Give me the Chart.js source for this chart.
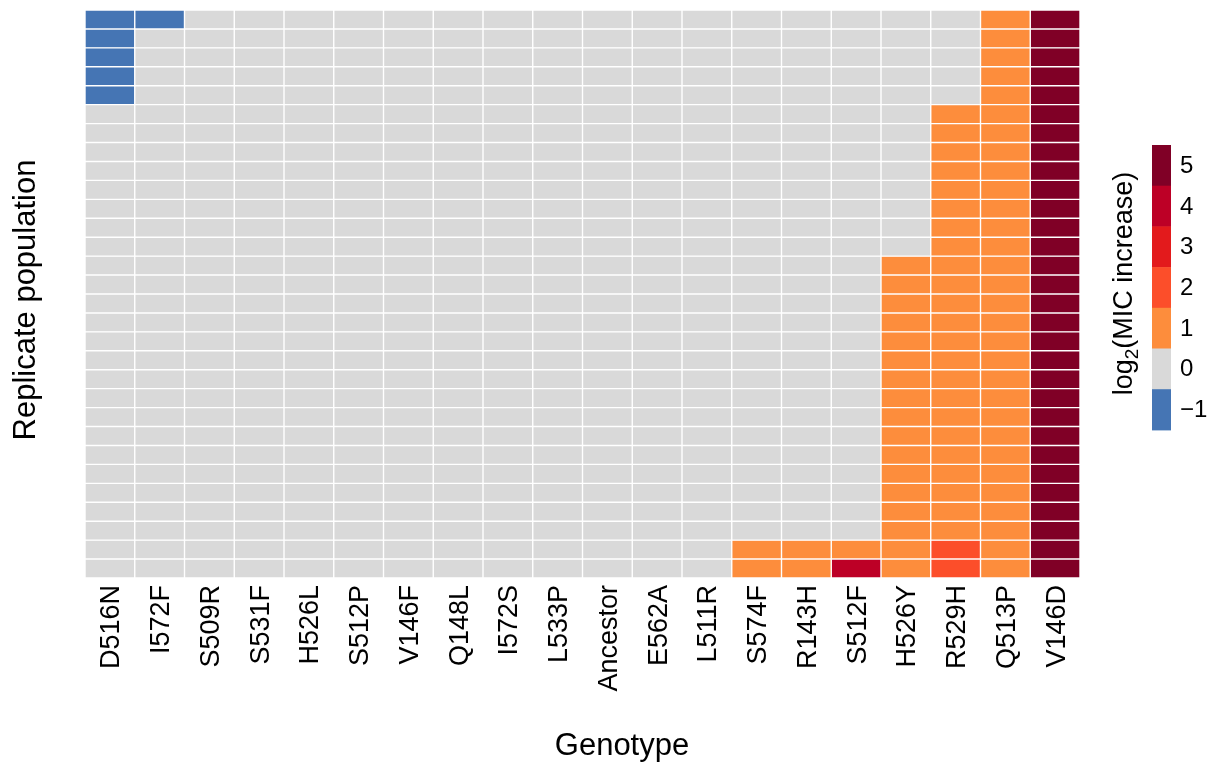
<!DOCTYPE html>
<html>
<head>
<meta charset="utf-8">
<script src="https://cdn.jsdelivr.net/npm/chart.js@4/dist/chart.umd.min.js"></script>
<style>
  html, body { margin: 0; padding: 0; background: #ffffff; }
  #wrap { width: 1209px; height: 763px; }
</style>
</head>
<body>
<div id="wrap"><canvas id="c" width="1209" height="763"></canvas></div>
<script>
// ---- data ----
const genotypes = ["D516N","I572F","S509R","S531F","H526L","S512P","V146F","Q148L","I572S","L533P",
                   "Ancestor","E562A","L511R","S574F","R143H","S512F","H526Y","R529H","Q513P","V146D"];
const replicates = [1,2,3,4,5,6,7,8,9,10,11,12,13,14,15,16,17,18,19,20,21,22,23,24,25,26,27,28,29,30];

// log2(MIC increase), one array per genotype, replicate 1 (top) .. 30 (bottom)
const logMIC = [
  [-1,-1,-1,-1,-1, 0,0,0,0,0, 0,0,0,0,0, 0,0,0,0,0, 0,0,0,0,0, 0,0,0,0,0], // D516N
  [-1,0,0,0,0, 0,0,0,0,0, 0,0,0,0,0, 0,0,0,0,0, 0,0,0,0,0, 0,0,0,0,0],     // I572F
  [0,0,0,0,0, 0,0,0,0,0, 0,0,0,0,0, 0,0,0,0,0, 0,0,0,0,0, 0,0,0,0,0],      // S509R
  [0,0,0,0,0, 0,0,0,0,0, 0,0,0,0,0, 0,0,0,0,0, 0,0,0,0,0, 0,0,0,0,0],      // S531F
  [0,0,0,0,0, 0,0,0,0,0, 0,0,0,0,0, 0,0,0,0,0, 0,0,0,0,0, 0,0,0,0,0],      // H526L
  [0,0,0,0,0, 0,0,0,0,0, 0,0,0,0,0, 0,0,0,0,0, 0,0,0,0,0, 0,0,0,0,0],      // S512P
  [0,0,0,0,0, 0,0,0,0,0, 0,0,0,0,0, 0,0,0,0,0, 0,0,0,0,0, 0,0,0,0,0],      // V146F
  [0,0,0,0,0, 0,0,0,0,0, 0,0,0,0,0, 0,0,0,0,0, 0,0,0,0,0, 0,0,0,0,0],      // Q148L
  [0,0,0,0,0, 0,0,0,0,0, 0,0,0,0,0, 0,0,0,0,0, 0,0,0,0,0, 0,0,0,0,0],      // I572S
  [0,0,0,0,0, 0,0,0,0,0, 0,0,0,0,0, 0,0,0,0,0, 0,0,0,0,0, 0,0,0,0,0],      // L533P
  [0,0,0,0,0, 0,0,0,0,0, 0,0,0,0,0, 0,0,0,0,0, 0,0,0,0,0, 0,0,0,0,0],      // Ancestor
  [0,0,0,0,0, 0,0,0,0,0, 0,0,0,0,0, 0,0,0,0,0, 0,0,0,0,0, 0,0,0,0,0],      // E562A
  [0,0,0,0,0, 0,0,0,0,0, 0,0,0,0,0, 0,0,0,0,0, 0,0,0,0,0, 0,0,0,0,0],      // L511R
  [0,0,0,0,0, 0,0,0,0,0, 0,0,0,0,0, 0,0,0,0,0, 0,0,0,0,0, 0,0,0,1,1],      // S574F
  [0,0,0,0,0, 0,0,0,0,0, 0,0,0,0,0, 0,0,0,0,0, 0,0,0,0,0, 0,0,0,1,1],      // R143H
  [0,0,0,0,0, 0,0,0,0,0, 0,0,0,0,0, 0,0,0,0,0, 0,0,0,0,0, 0,0,0,1,4],      // S512F
  [0,0,0,0,0, 0,0,0,0,0, 0,0,0,1,1, 1,1,1,1,1, 1,1,1,1,1, 1,1,1,1,1],      // H526Y
  [0,0,0,0,0, 1,1,1,1,1, 1,1,1,1,1, 1,1,1,1,1, 1,1,1,1,1, 1,1,1,2,2],      // R529H
  [1,1,1,1,1, 1,1,1,1,1, 1,1,1,1,1, 1,1,1,1,1, 1,1,1,1,1, 1,1,1,1,1],      // Q513P
  [5,5,5,5,5, 5,5,5,5,5, 5,5,5,5,5, 5,5,5,5,5, 5,5,5,5,5, 5,5,5,5,5]       // V146D
];

const scaleValues = [-1, 0, 1, 2, 3, 4, 5];
const scaleLabels = ["\u22121", "0", "1", "2", "3", "4", "5"];
const scaleColors = ["#4575b4", "#d9d9d9", "#fd8d3c", "#fc4e2a", "#e31a1c", "#bd0026", "#800026"];

const xTitle = "Genotype";
const yTitle = "Replicate population";

// ---- build datasets: one stacked dataset per replicate row ----
function colorFor(v) {
  const i = scaleValues.indexOf(v);
  return scaleColors[i];
}
const datasets = replicates.map((rep, r) => ({
  label: "Replicate " + rep,
  data: genotypes.map(() => 1),
  backgroundColor: genotypes.map((g, gi) => colorFor(logMIC[gi][r])),
  borderColor: "#ffffff",
  borderWidth: 0.7,
  borderSkipped: false,
  inflateAmount: 0,
  barPercentage: 1,
  categoryPercentage: 1
}));

const FONT = "'Liberation Sans', Arial, Helvetica, sans-serif";

// plugin: axis titles + colour bar legend
const decor = {
  id: "decor",
  afterDraw(chart) {
    const ctx = chart.ctx;
    ctx.save();
    ctx.fillStyle = "#000000";
    // x title
    ctx.font = "31px " + FONT;
    ctx.textAlign = "center";
    ctx.textBaseline = "alphabetic";
    ctx.fillText(xTitle, 622, 755);
    // y title
    ctx.save();
    ctx.translate(35, 300);
    ctx.rotate(-Math.PI / 2);
    ctx.textAlign = "center";
    ctx.textBaseline = "alphabetic";
    ctx.fillText(yTitle, 0, 0);
    ctx.restore();

    // colour bar
    const barX = 1152, barW = 19, barTop = 145, segH = 40.7;
    const n = scaleValues.length;
    for (let i = 0; i < n; i++) {
      const idx = n - 1 - i;
      ctx.fillStyle = scaleColors[idx];
      ctx.fillRect(barX, barTop + i * segH, barW, segH + 0.5);
    }
    ctx.fillStyle = "#000000";
    ctx.font = "24px " + FONT;
    ctx.textAlign = "left";
    ctx.textBaseline = "middle";
    for (let i = 0; i < n; i++) {
      const idx = n - 1 - i;
      ctx.fillText(scaleLabels[idx], 1180, barTop + i * segH + segH / 2 + 1);
    }
    // legend title: log2(MIC increase), rotated
    ctx.save();
    const cy = barTop + n * segH / 2 - 4;
    ctx.translate(1132, cy);
    ctx.rotate(-Math.PI / 2);
    ctx.textBaseline = "alphabetic";
    const mainF = "27px " + FONT, subF = "19px " + FONT;
    ctx.font = mainF;
    const w1 = ctx.measureText("log").width;
    const w3 = ctx.measureText("(MIC increase)").width;
    ctx.font = subF;
    const w2 = ctx.measureText("2").width;
    let x0 = -(w1 + w2 + w3) / 2;
    ctx.textAlign = "left";
    ctx.font = mainF;
    ctx.fillText("log", x0, 0);
    ctx.font = subF;
    ctx.fillText("2", x0 + w1, 6);
    ctx.font = mainF;
    ctx.fillText("(MIC increase)", x0 + w1 + w2, 0);
    ctx.restore();
    ctx.restore();
  }
};

new Chart(document.getElementById("c"), {
  type: "bar",
  data: { labels: genotypes, datasets: datasets },
  options: {
    responsive: false,
    animation: false,
    devicePixelRatio: 1,
    layout: { padding: { left: 85, right: 129, top: 10, bottom: 0 } },
    plugins: { legend: { display: false }, tooltip: { enabled: false }, title: { display: false } },
    scales: {
      x: {
        type: "category",
        stacked: true,
        grid: { display: false, drawTicks: false },
        border: { display: false },
        ticks: {
          color: "#000000",
          font: { family: FONT, size: 27 },
          maxRotation: 90,
          minRotation: 90,
          autoSkip: false,
          padding: 7,
          labelOffset: 2
        },
        afterFit(scale) { scale.height = 763 - 578; }
      },
      y: {
        stacked: true,
        min: 0,
        max: replicates.length,
        reverse: true,
        display: false
      }
    }
  },
  plugins: [decor]
});
</script>
</body>
</html>
